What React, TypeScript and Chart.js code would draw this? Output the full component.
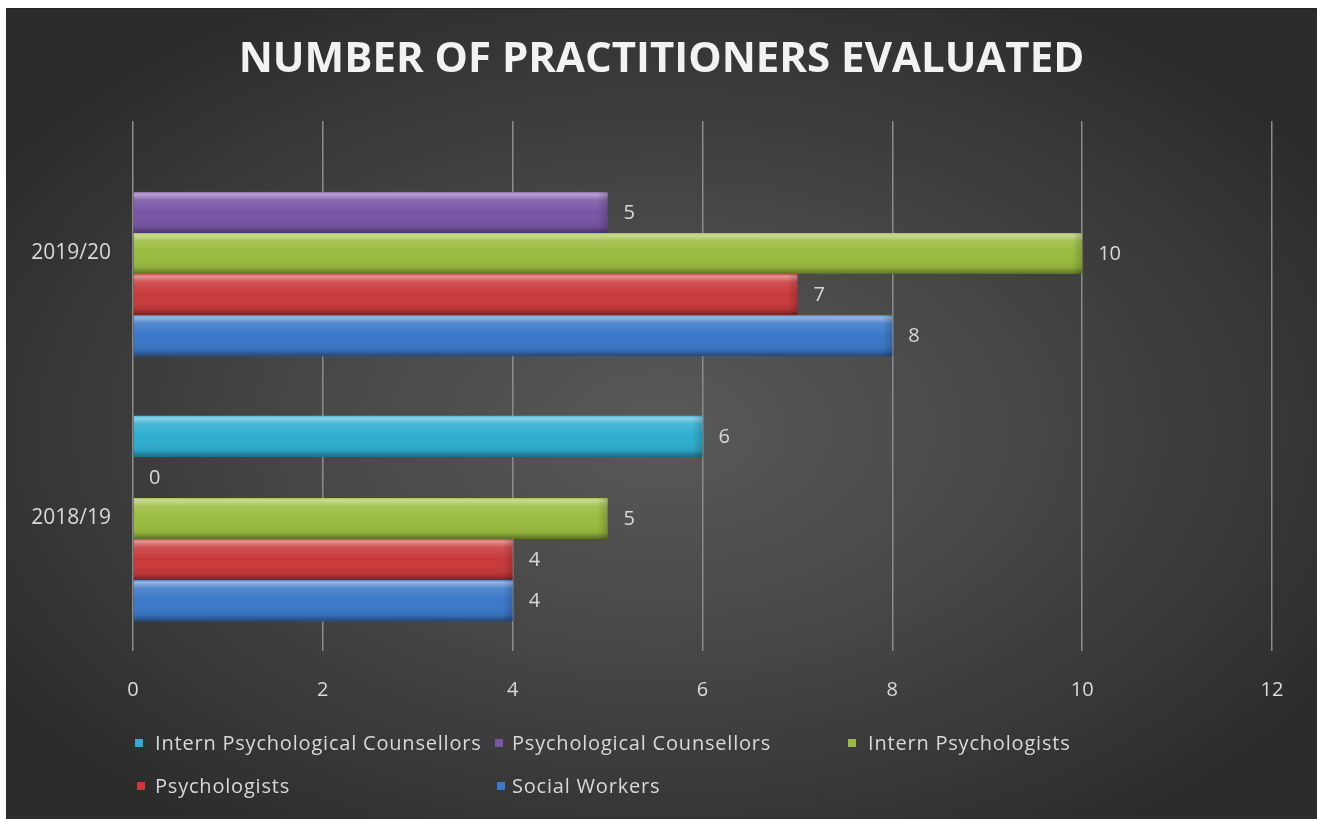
import React, { useEffect, useRef } from "react";
import { Chart, registerables } from "chart.js";

Chart.register(...registerables);

const categories = ["2019/20", "2018/19"];
const seriesNames = [
  "Intern Psychological Counsellors",
  "Psychological Counsellors",
  "Intern Psychologists",
  "Psychologists",
  "Social Workers",
];
const internPsychCounsellors: (number | null)[] = [null, 6];
const psychCounsellors: (number | null)[] = [5, 0];
const internPsychologists: (number | null)[] = [10, 5];
const psychologists: (number | null)[] = [7, 4];
const socialWorkers: (number | null)[] = [8, 4];
const seriesColors = ["#2eaed0", "#7a55a6", "#9abb3e", "#c9393a", "#3b78c9"];
const xTicks = [0, 2, 4, 6, 8, 10, 12];

const FONT = "'Open Sans', 'DejaVu Sans', sans-serif";

const shadePlugin = {
  id: "shade",
  afterDatasetsDraw(chart: any) {
    const ctx = chart.ctx;
    chart.data.datasets.forEach((ds: any, i: number) => {
      const meta = chart.getDatasetMeta(i);
      meta.data.forEach((el: any, j: number) => {
        const v = ds.data[j];
        if (v === null || v === undefined || v === 0) return;
        const p = el.getProps(["x", "y", "base", "height"], true);
        const top = p.y - p.height / 2;
        const left = Math.min(p.base, p.x);
        const w = Math.abs(p.x - p.base);
        const g = ctx.createLinearGradient(0, top, 0, top + p.height);
        g.addColorStop(0, "rgba(255,255,255,0.15)");
        g.addColorStop(0.06, "rgba(255,255,255,0.45)");
        g.addColorStop(0.2, "rgba(255,255,255,0.12)");
        g.addColorStop(0.5, "rgba(255,255,255,0)");
        g.addColorStop(0.85, "rgba(0,0,0,0.08)");
        g.addColorStop(1, "rgba(0,0,0,0.4)");
        ctx.save();
        ctx.fillStyle = g;
        ctx.fillRect(left, top, w, p.height);
        const g2 = ctx.createLinearGradient(left + w - 10, 0, left + w, 0);
        g2.addColorStop(0, "rgba(0,0,0,0)");
        g2.addColorStop(1, "rgba(0,0,0,0.18)");
        ctx.fillStyle = g2;
        ctx.fillRect(left + w - 10, top, 10, p.height);
        ctx.restore();
      });
    });
  },
};

const labelPlugin = {
  id: "valueLabels",
  afterDatasetsDraw(chart: any) {
    const ctx = chart.ctx;
    ctx.save();
    ctx.font = `20px ${FONT}`;
    ctx.fillStyle = "#d9d9d9";
    ctx.textAlign = "left";
    ctx.textBaseline = "middle";
    chart.data.datasets.forEach((ds: any, i: number) => {
      const meta = chart.getDatasetMeta(i);
      meta.data.forEach((el: any, j: number) => {
        const v = ds.data[j];
        if (v === null || v === undefined) return;
        const p = el.getProps(["x", "y"], true);
        ctx.fillText(String(v), p.x + 16, p.y + 1);
      });
    });
    ctx.restore();
  },
};

const legendPos = [
  { left: 135, top: 742, text: 155 },
  { left: 495, top: 742, text: 512 },
  { left: 848, top: 742, text: 868 },
  { left: 137, top: 785, text: 155 },
  { left: 497, top: 785, text: 512 },
];

export default function App() {
  const ref = useRef<HTMLCanvasElement | null>(null);

  useEffect(() => {
    document.body.style.margin = "0";
    document.body.style.overflow = "hidden";
    document.body.style.background = "#ffffff";
    const values = [internPsychCounsellors, psychCounsellors, internPsychologists, psychologists, socialWorkers];
    const chart = new Chart(ref.current as HTMLCanvasElement, {
      type: "bar",
      data: {
        labels: categories,
        datasets: seriesNames.map((name, i) => ({
          label: name,
          data: values[i],
          backgroundColor: seriesColors[i],
          borderWidth: 0,
          categoryPercentage: 0.775,
          barPercentage: 1,
        })),
      },
      options: {
        indexAxis: "y",
        animation: false,
        responsive: false,
        maintainAspectRatio: false,
        layout: { padding: 0 },
        plugins: {
          legend: { display: false },
          tooltip: { enabled: false },
          title: {
            display: true,
            text: "NUMBER OF PRACTITIONERS EVALUATED",
            color: "#f2f2f2",
            font: { family: FONT, size: 42, weight: "bold", lineHeight: 1.2 },
            padding: { top: 25.5, bottom: 36.1 },
          },
        },
        scales: {
          x: {
            min: 0,
            max: 12,
            afterBuildTicks: (scale: any) => {
              scale.ticks = xTicks.map((v) => ({ value: v }));
            },
            afterFit: (scale: any) => {
              scale.height = 169;
              scale.paddingRight = 45;
            },
            grid: { color: "#8c8c8c", lineWidth: 1.5, drawTicks: false },
            border: { display: false },
            ticks: { color: "#d9d9d9", font: { family: FONT, size: 20 }, padding: 27 },
          },
          y: {
            afterFit: (scale: any) => {
              scale.width = 127;
            },
            grid: { display: false, drawTicks: false },
            border: { display: false },
            ticks: { color: "#d9d9d9", font: { family: FONT, size: 21 }, padding: 22 },
          },
        },
      },
      plugins: [shadePlugin, labelPlugin],
    } as any);
    return () => chart.destroy();
  }, []);

  return (
    <div
      style={{
        position: "absolute",
        left: 6,
        top: 8,
        width: 1311,
        height: 811,
        background: "radial-gradient(ellipse 60% 60% at 50% 52%, #595959 0%, #474747 45%, #2c2c2c 100%)",
        borderTop: "1px solid #222",
        boxSizing: "border-box",
        overflow: "hidden",
        fontFamily: FONT,
      }}
    >
      <canvas ref={ref} width={1311} height={811} style={{ position: "absolute", left: 0, top: 0 }} />
      {seriesNames.map((name, i) => (
        <React.Fragment key={name}>
          <div
            style={{
              position: "absolute",
              left: legendPos[i].left - 6,
              top: legendPos[i].top - 8 - 4,
              width: 8,
              height: 8,
              background: seriesColors[i],
            }}
          />
          <div
            style={{
              position: "absolute",
              left: legendPos[i].text - 6,
              top: legendPos[i].top - 8 - 14,
              lineHeight: "28px",
              fontSize: 20,
              letterSpacing: "0.8px",
              color: "#d9d9d9",
              whiteSpace: "nowrap",
            }}
          >
            {name}
          </div>
        </React.Fragment>
      ))}
    </div>
  );
}
